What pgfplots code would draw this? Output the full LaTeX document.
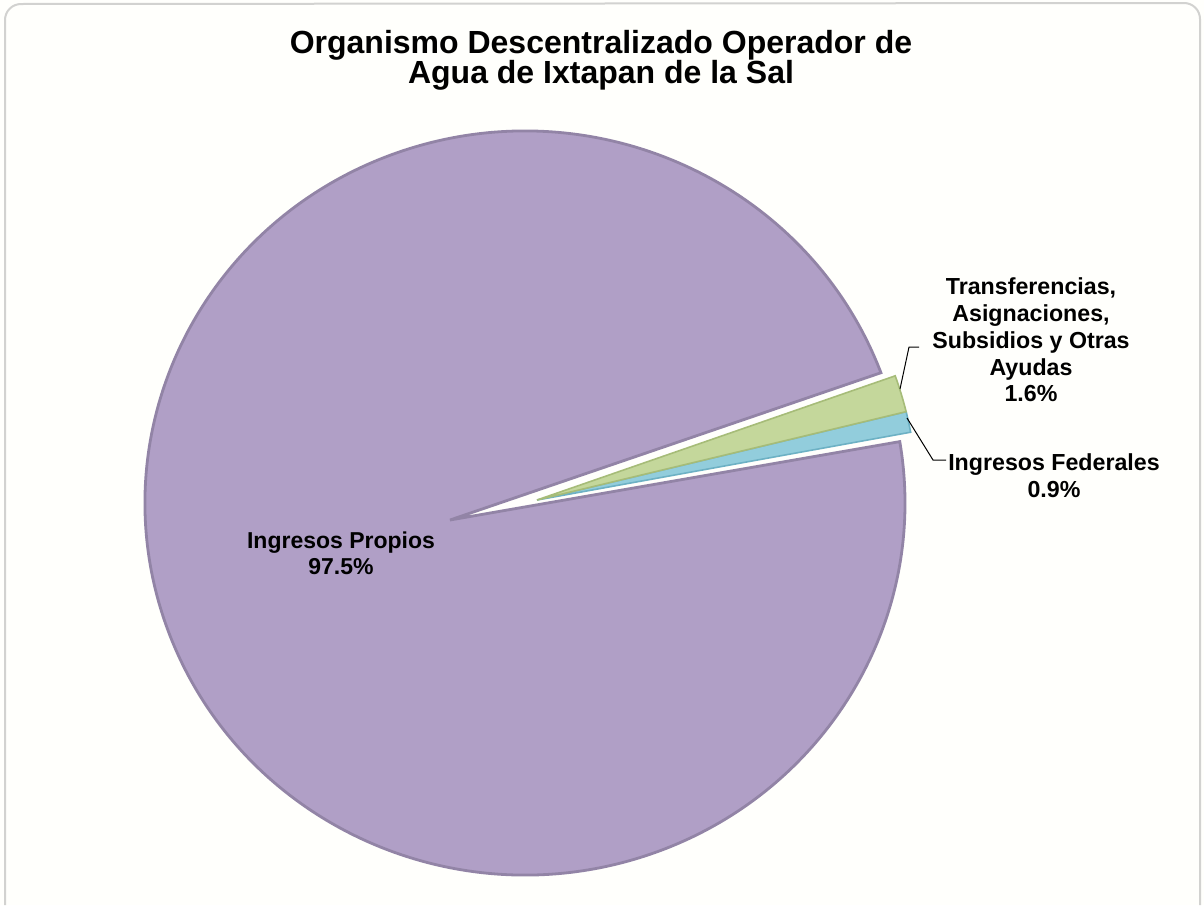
\documentclass[border=0pt]{standalone}
\usepackage{fontspec}
\setmainfont{Liberation Sans}
\usepackage{pgfplots}
\usepackage{pgfplotstable}
\pgfplotsset{compat=1.18}

\definecolor{propios}{HTML}{B09FC6}
\definecolor{propiosedge}{HTML}{9284A6}
\definecolor{transf}{HTML}{C4D79B}
\definecolor{transfedge}{HTML}{A6BC78}
\definecolor{federal}{HTML}{92CDDC}
\definecolor{federaledge}{HTML}{6DB1C4}
\definecolor{frame}{HTML}{D2D2D0}

% porcentajes por fuente de ingreso
\pgfplotstableread{
fuente value
Propios 97.5
Federales 0.9
Transferencias 1.6
}\piedata

\begin{document}
\begin{tikzpicture}
\pgfplotstablegetelem{0}{value}\of\piedata \let\vP\pgfplotsretval
\pgfplotstablegetelem{1}{value}\of\piedata \let\vF\pgfplotsretval
\pgfplotstablegetelem{2}{value}\of\piedata \let\vT\pgfplotsretval
% angulos (grados, sentido antihorario desde el este)
\pgfmathsetmacro\aF{10.5}
\pgfmathsetmacro\bF{\aF+3.6*\vF}
\pgfmathsetmacro\bT{\bF+3.6*\vT}
\pgfmathsetmacro\aP{\bT+1}
\pgfmathsetmacro\bP{\bT+3.6*\vP-1}
\begin{axis}[
    width=602pt, height=452.5pt, scale only axis,
    xmin=0, xmax=1204, ymin=0, ymax=905, y dir=reverse,
    hide axis, clip=false,
]
    \fill[white!99!yellow] (axis cs:0,0) rectangle (axis cs:1204,905);
    \draw[frame, line width=1pt] (axis cs:5,905) -- (axis cs:5,20)
        arc[start angle=180, end angle=90, radius=8pt] -- (axis cs:1184,3)
        arc[start angle=90, end angle=0, radius=8pt] -- (axis cs:1200,905);

    % Ingresos Propios
    \filldraw[fill=propios, draw=propiosedge, line width=1.4pt]
        (axis cs:450,520) -- ([shift={(\aP:190pt and 186pt)}]axis cs:525,503)
        arc[start angle=\aP, end angle=\bP, x radius=190pt, y radius=186pt] -- cycle;
    % Ingresos Federales
    \filldraw[fill=federal, draw=federaledge, line width=0.8pt]
        (axis cs:537,500) -- ([shift={(\aF:190pt and 186pt)}]axis cs:537,500)
        arc[start angle=\aF, end angle=\bF, x radius=190pt, y radius=186pt] -- cycle;
    % Transferencias
    \filldraw[fill=transf, draw=transfedge, line width=0.8pt]
        (axis cs:537,500) -- ([shift={(\bF:190pt and 186pt)}]axis cs:537,500)
        arc[start angle=\bF, end angle=\bT, x radius=190pt, y radius=186pt] -- cycle;

    % lineas guia
    \draw[black, line width=0.5pt] (axis cs:900,389) -- (axis cs:909,347) -- (axis cs:919,347);
    \draw[black, line width=0.5pt] (axis cs:907,418) -- (axis cs:933,460) -- (axis cs:946,460);

    % titulo
    \node[font=\bfseries\fontsize{16}{15.2}\selectfont, align=center] at (axis cs:601,60)
        {Organismo Descentralizado Operador de\\Agua de Ixtapan de la Sal};

    % etiquetas
    \node[font=\bfseries\fontsize{11.5}{13}\selectfont, align=center] at (axis cs:341,553)
        {Ingresos Propios\\97.5\%};
    \node[font=\bfseries\fontsize{11.6}{13.4}\selectfont, align=center] at (axis cs:1031,340)
        {Transferencias,\\Asignaciones,\\Subsidios y Otras\\Ayudas\\1.6\%};
    \node[font=\bfseries\fontsize{11.6}{13.4}\selectfont, align=center] at (axis cs:1054,476)
        {Ingresos Federales\\0.9\%};
\end{axis}
\pgfresetboundingbox
\path (current axis.south west) rectangle (current axis.north east);
\end{tikzpicture}
\end{document}
